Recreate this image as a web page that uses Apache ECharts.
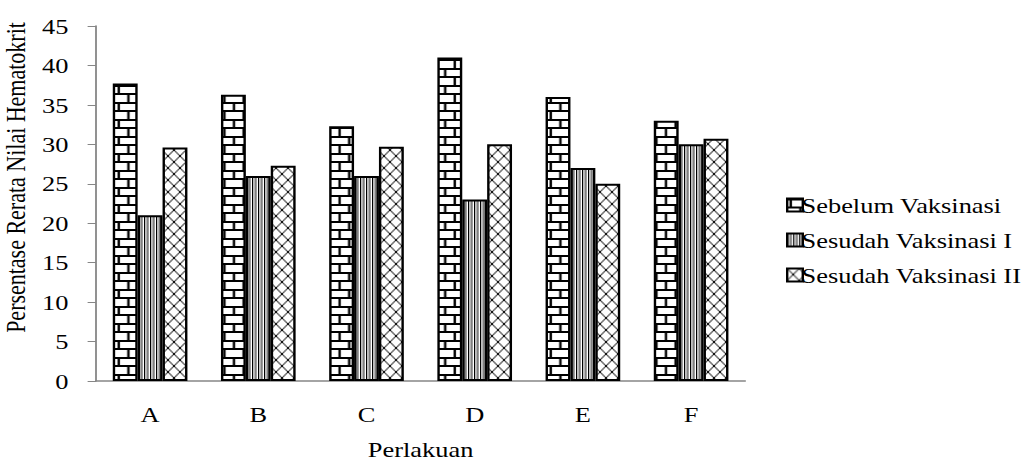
<!DOCTYPE html>
<html>
<head>
<meta charset="utf-8">
<script src="https://cdn.jsdelivr.net/npm/echarts@6/dist/echarts.min.js"></script>
<style>
html,body{margin:0;padding:0;background:#fff;overflow:hidden;width:1034px;height:461px;}
#chart{width:862px;height:461px;transform:scaleX(1.2);transform-origin:0 0;}
</style>
</head>
<body>
<div id="chart"></div>
<script>
const categories = ['A', 'B', 'C', 'D', 'E', 'F'];
const seriesNames = ['Sebelum Vaksinasi', 'Sesudah Vaksinasi I', 'Sesudah Vaksinasi II'];
const sebelum = [37.7, 36.3, 32.3, 41.0, 36.0, 33.0];
const sesudah1 = [21.0, 26.0, 26.0, 23.0, 27.0, 30.0];
const sesudah2 = [29.6, 27.3, 29.7, 30.0, 25.0, 30.7];
const yTicks = { min: 0, max: 45, interval: 5 };

function makeCanvas(w, h) {
  const c = document.createElement('canvas');
  c.width = w; c.height = h;
  const ctx = c.getContext('2d');
  ctx.fillStyle = '#fff';
  ctx.fillRect(0, 0, w, h);
  return [c, ctx];
}
function brickPattern() {
  const [c, ctx] = makeCanvas(16, 17);
  ctx.fillStyle = '#000';
  ctx.fillRect(0, 0, 16, 2);
  ctx.fillRect(0, 8, 16, 2);
  ctx.fillRect(2, 0, 2, 8);
  ctx.fillRect(10, 8, 2, 9);
  return c;
}
function vlinePattern() {
  const [c, ctx] = makeCanvas(5, 4);
  ctx.fillStyle = '#000';
  ctx.fillRect(0, 0, 1, 4);
  ctx.fillRect(2.5, 0, 1, 4);
  return c;
}
function crossPattern() {
  const [c, ctx] = makeCanvas(10, 12);
  ctx.strokeStyle = '#000';
  ctx.lineWidth = 1;
  ctx.beginPath();
  ctx.moveTo(0, 0); ctx.lineTo(10, 12);
  ctx.moveTo(10, 0); ctx.lineTo(0, 12);
  ctx.stroke();
  return c;
}
const patterns = [brickPattern(), vlinePattern(), crossPattern()].map(c => c.toDataURL());
const values = [sebelum, sesudah1, sesudah2];

const chart = echarts.init(document.getElementById('chart'), null, { renderer: 'svg' });
const font = '"Liberation Serif", "Times New Roman", serif';
chart.setOption({
  animation: false,
  textStyle: { fontFamily: font },
  grid: { left: 80, right: 241, top: 26, bottom: 80, outerBoundsMode: 'none' },
  legend: {
    orient: 'vertical',
    left: 650,
    top: 189,
    itemWidth: 13,
    itemHeight: 13,
    itemGap: 13,
    icon: 'rect',
    textStyle: { fontFamily: font, fontSize: 22, color: '#000', padding: [0, 0, 0, -6] },
    data: seriesNames
  },
  xAxis: {
    type: 'category',
    data: categories,
    name: 'Perlakuan',
    nameLocation: 'middle',
    nameGap: 57,
    nameTextStyle: { fontFamily: font, fontSize: 22, color: '#000' },
    axisLine: { lineStyle: { color: '#868686', width: 1.5 } },
    axisTick: { show: false },
    axisLabel: { fontFamily: font, fontSize: 22, color: '#000', margin: 22 }
  },
  yAxis: {
    type: 'value',
    min: yTicks.min, max: yTicks.max, interval: yTicks.interval,
    name: 'Persentase Rerata Nilai Hematokrit',
    nameLocation: 'middle',
    nameGap: 51,
    nameTextStyle: { fontFamily: font, fontSize: 22, color: '#000', padding: [0, 0, 0, 52] },
    axisLine: { show: true, lineStyle: { color: '#868686', width: 1.5 } },
    axisTick: { show: true, length: 7, lineStyle: { color: '#868686' } },
    splitLine: { show: false },
    axisLabel: { fontFamily: font, fontSize: 22, color: '#000', margin: 23 }
  },
  series: seriesNames.map((n, i) => ({
    name: n,
    type: 'bar',
    data: values[i],
    barGap: '0%',
    barCategoryGap: '31%',
    itemStyle: {
      color: { image: patterns[i], repeat: 'repeat' },
      borderColor: '#000',
      borderWidth: 2
    }
  }))
});
</script>
</body>
</html>
